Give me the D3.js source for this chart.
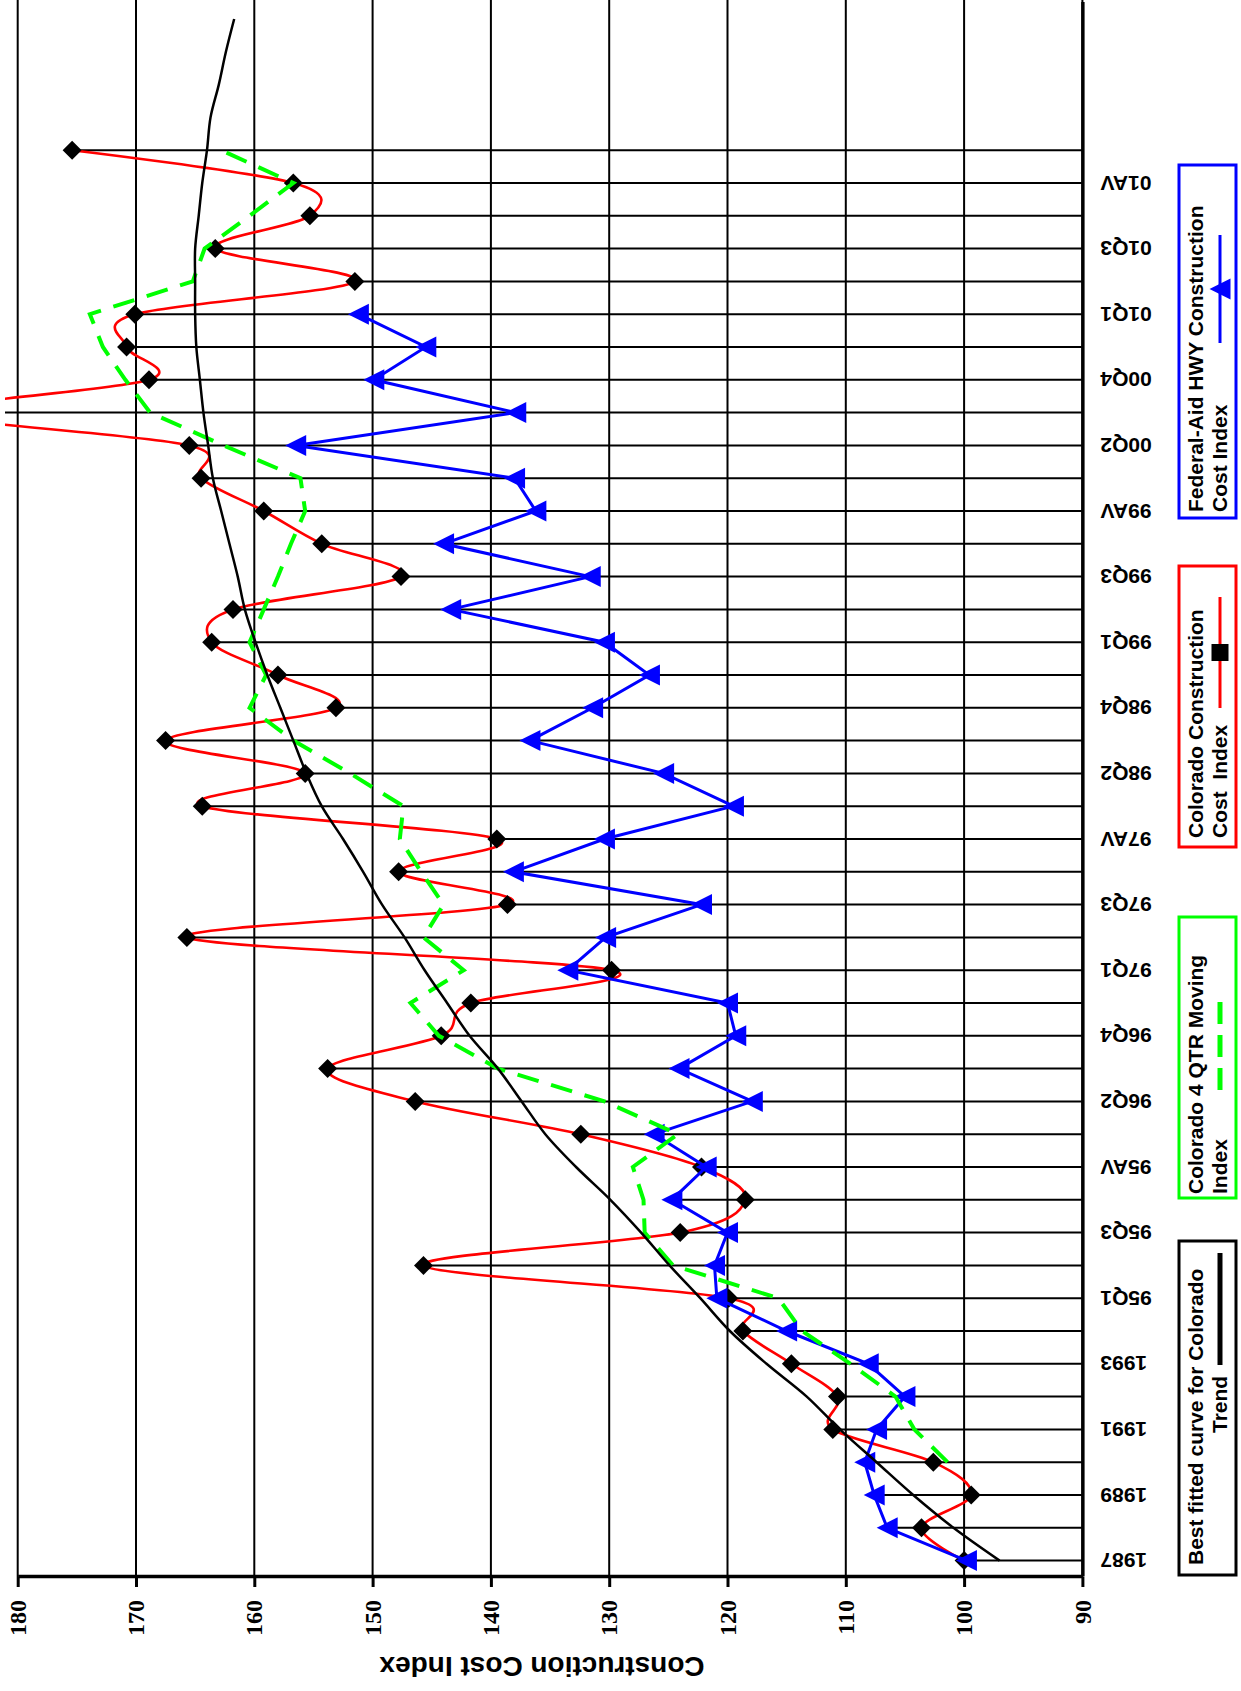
<!DOCTYPE html>
<meta charset="utf-8">

<!--load d3.js-->
<script src="https://d3js.org/d3.v7.min.js"></script>

<style>
    body { margin: 0; background: #fff; }
    text { font-family: "Liberation Sans", Arial, sans-serif; font-weight: bold; }
</style>

<div id="chart">
</div>

<script>
    // category names, the last five slots carry no label
    const categories = ["1987", "1988", "1989", "1990", "1991", "1992", "1993", "1994",
        "95Q1", "95Q2", "95Q3", "95Q4", "95AV",
        "96Q1", "96Q2", "96Q3", "96Q4", "96AV",
        "97Q1", "97Q2", "97Q3", "97Q4", "97AV",
        "98Q1", "98Q2", "98Q3", "98Q4", "98AV",
        "99Q1", "99Q2", "99Q3", "99Q4", "99AV",
        "00Q1", "00Q2", "00Q3", "00Q4", "00AV",
        "01Q1", "01Q2", "01Q3", "01Q4", "01AV",
        "", "", "", "", ""];

    // Colorado Construction Cost Index (00Q3 runs off the top of the axis)
    const colorado = [100.0, 103.6, 99.4, 102.6, 111.1, 110.7, 114.6, 118.7,
        119.9, 145.7, 124.0, 118.5, 122.2,
        132.4, 146.4, 153.8, 144.2, 141.7,
        129.8, 165.7, 138.6, 147.8, 139.5,
        164.4, 155.7, 167.5, 153.1, 158.0,
        163.6, 161.8, 147.6, 154.3, 159.2,
        164.5, 165.5, 187.0, 168.9, 170.8,
        170.1, 151.5, 163.3, 155.3, 156.7,
        175.4];

    // Federal-Aid HWY Construction Cost Index
    const federal = [99.8, 106.5, 107.6, 108.4, 107.4, 105.0, 108.1, 115.0,
        120.9, 121.1, 120.0, 124.7, 121.8,
        126.2, 117.9, 124.1, 119.3, 120.0,
        133.5, 130.3, 122.2, 138.1, 130.4,
        119.5, 125.4, 136.7, 131.4, 126.6,
        130.4, 143.4, 131.6, 144.0, 136.2,
        138.0, 156.5, 137.9, 149.9, 145.5,
        151.2];

    // Colorado 4 QTR moving index, first value sits on 1990
    const movingStart = 3;
    const moving = [101.4, 104.2, 105.8, 109.6, 113.7,
        115.7, 124.6, 127.0, 127.1, 128.0,
        124.2, 130.4, 139.4, 144.4, 146.8,
        142.3, 145.7, 144.0, 145.9, 147.7,
        147.4, 151.9, 156.7, 160.4, 159.0,
        160.4, 159.2, 158.0, 156.9, 155.7,
        156.1, 162.6, 168.8, 170.9, 172.8,
        173.9, 165.2, 164.2, 160.4, 156.7,
        162.8];

    // best fitted curve for Colorado trend
    const trend = [97.0, 100.9, 104.3, 107.4, 110.5, 113.3, 116.7, 119.8,
        122.3, 124.9, 127.3, 129.9, 132.8,
        135.4, 137.4, 139.4, 141.8, 143.7,
        145.6, 147.3, 149.2, 150.8, 152.5,
        154.3, 155.6, 156.7, 157.8, 158.9,
        159.9, 160.8, 161.4, 162.1, 162.8,
        163.5, 163.9, 164.3, 164.6, 164.9,
        165.0, 165.0, 165.0, 164.7, 164.4,
        164.0, 163.7, 163.0, 162.4, 161.7];

    const valueTicks = [90, 100, 110, 120, 130, 140, 150, 160, 170, 180];

    // the chart is laid out in landscape, then turned a quarter turn to the left
    const fullW = 1691,
        fullH = 1241;
    const margin = {
            top: 17.7,
            right: 2.6,
            bottom: 158.6,
            left: 114
        },
        width = fullW - margin.left - margin.right,
        height = fullH - margin.top - margin.bottom;

    const root = d3.select("#chart")
        .append("svg")
        .attr("width", fullH)
        .attr("height", fullW)
        .style("display", "block")
        .append("g")
        .attr("transform", `translate(0, ${fullW}) rotate(-90)`);

    const svg = root.append("g")
        .attr("transform", `translate(${margin.left}, ${margin.top})`);

    //scales
    const x = d3.scaleBand()
        .domain(d3.range(categories.length))
        .range([0, width]);
    const cx = i => x(i) + x.bandwidth() / 2;

    const y = d3.scaleLinear()
        .domain([90, 180])
        .range([height, 0]);

    //value gridlines
    svg.append("g")
        .selectAll("line")
        .data(valueTicks)
        .join("line")
        .attr("x1", 0)
        .attr("x2", width + margin.right)
        .attr("y1", d => y(d))
        .attr("y2", d => y(d))
        .attr("stroke", "#000")
        .attr("stroke-width", 2);

    // clip so the 00Q3 spike stops at the chart edge
    svg.append("clipPath")
        .attr("id", "plotclip")
        .append("rect")
        .attr("x", 0)
        .attr("y", 5 - margin.top)
        .attr("width", width + margin.right)
        .attr("height", height - 5 + margin.top);

    const plot = svg.append("g").attr("clip-path", "url(#plotclip)");

    //drop lines from the highest of the two indexes down to the axis
    const dropIdx = d3.range(colorado.length);
    plot.append("g")
        .selectAll("line")
        .data(dropIdx)
        .join("line")
        .attr("x1", i => cx(i))
        .attr("x2", i => cx(i))
        .attr("y1", i => y(Math.max(colorado[i], i < federal.length ? federal[i] : -Infinity)))
        .attr("y2", y(90))
        .attr("stroke", "#000")
        .attr("stroke-width", 2);

    //Colorado smoothed line + diamonds
    const coloradoPts = colorado.map((v, i) => [i, v]);
    plot.append("path")
        .datum(coloradoPts)
        .attr("fill", "none")
        .attr("stroke", "#ff0000")
        .attr("stroke-width", 2.6)
        .attr("d", d3.line()
            .x(d => cx(d[0]))
            .y(d => y(d[1]))
            .curve(d3.curveCardinal.tension(0)));

    plot.append("g")
        .selectAll("path")
        .data(coloradoPts)
        .join("path")
        .attr("transform", d => `translate(${cx(d[0])}, ${y(d[1])})`)
        .attr("d", "M0,-9.5L9.5,0L0,9.5L-9.5,0Z")
        .attr("fill", "#000");

    //federal line + triangles
    const federalPts = federal.map((v, i) => [i, v]);
    plot.append("path")
        .datum(federalPts)
        .attr("fill", "none")
        .attr("stroke", "#0000ff")
        .attr("stroke-width", 3)
        .attr("d", d3.line()
            .x(d => cx(d[0]))
            .y(d => y(d[1])));

    plot.append("g")
        .selectAll("path")
        .data(federalPts)
        .join("path")
        .attr("transform", d => `translate(${cx(d[0])}, ${y(d[1])})`)
        .attr("d", "M0,-10.5L10.5,10.5L-10.5,10.5Z")
        .attr("fill", "#0000ff");

    //moving index, dashed green
    const movingPts = moving.map((v, i) => [i + movingStart, v]);
    plot.append("path")
        .datum(movingPts)
        .attr("fill", "none")
        .attr("stroke", "#00ff00")
        .attr("stroke-width", 4)
        .attr("stroke-dasharray", "22,13")
        .attr("d", d3.line()
            .x(d => cx(d[0]))
            .y(d => y(d[1])));

    //trend curve
    const trendPts = trend.map((v, i) => [i, v]);
    plot.append("path")
        .datum(trendPts)
        .attr("fill", "none")
        .attr("stroke", "#000")
        .attr("stroke-width", 2.5)
        .attr("d", d3.line()
            .x(d => cx(d[0]))
            .y(d => y(d[1]))
            .curve(d3.curveCatmullRom.alpha(0.5)));

    //Append group and insert axis
    const yAxis = svg.append("g")
        .call(d3.axisLeft(y)
            .tickValues(valueTicks)
            .tickSize(10)
            .tickSizeOuter(0)
            .tickPadding(13));
    yAxis.select(".domain").attr("stroke-width", 3.4);
    yAxis.selectAll(".tick line").attr("stroke-width", 3);
    yAxis.selectAll(".tick text")
        .style("font-family", "'Liberation Serif', 'Times New Roman', serif")
        .style("font-weight", "bold")
        .style("font-size", "24px")
        .attr("fill", "#000");

    const xAxis = svg.append("g")
        .attr("transform", `translate(0, ${height})`)
        .call(d3.axisBottom(x)
            .tickSize(0)
            .tickSizeOuter(0)
            .tickFormat(i => i % 2 === 0 ? categories[i] : ""));
    xAxis.select(".domain").attr("stroke-width", 3.4);
    xAxis.selectAll(".tick text")
        .attr("transform", "rotate(-90)")
        .attr("text-anchor", "end")
        .attr("x", -18)
        .attr("y", 0)
        .attr("dy", "0.35em")
        .style("font-size", "21px")
        .style("font-family", "'Liberation Sans', Arial, sans-serif")
        .style("font-weight", "bold")
        .attr("fill", "#000");

    //axis title
    root.append("text")
        .attr("transform", `translate(34, ${margin.top + height / 2 - 8}) rotate(-90)`)
        .attr("text-anchor", "middle")
        .style("font-size", "28px")
        .text("Construction Cost Index");

    //legend, four framed boxes along the bottom
    const legendItems = [{
            x: 116, w: 334, color: "#000",
            lines: [["Best fitted curve for Colorado", 126], ["Trend", 258]],
            sample: [326, 438], dash: null, width: 5, marker: null
        },
        {
            x: 493, w: 281, color: "#00ff00",
            lines: [["Colorado 4 QTR Moving", 497], ["Index", 497]],
            sample: [601, 698], dash: "22,11", width: 5, marker: null
        },
        {
            x: 844, w: 281, color: "#ff0000",
            lines: [["Colorado Construction", 853], ["Cost  Index", 853]],
            sample: [983, 1094], dash: null, width: 3, marker: "square"
        },
        {
            x: 1173, w: 353, color: "#0000ff",
            lines: [["Federal-Aid HWY Construction", 1179], ["Cost Index", 1179]],
            sample: [1348, 1456], dash: null, width: 3, marker: "triangle"
        }
    ];

    const legend = root.append("g")
        .selectAll("g")
        .data(legendItems)
        .join("g");

    legend.append("rect")
        .attr("x", d => d.x)
        .attr("y", 1179)
        .attr("width", d => d.w)
        .attr("height", 57)
        .attr("fill", "#fff")
        .attr("stroke", d => d.color)
        .attr("stroke-width", 3);

    legend.each(function(d) {
        const g = d3.select(this);
        d.lines.forEach((l, k) => {
            g.append("text")
                .attr("x", l[1])
                .attr("y", 1203 + k * 24)
                .attr("xml:space", "preserve")
                .style("white-space", "pre")
                .style("font-size", "21px")
                .attr("fill", "#000")
                .text(l[0]);
        });
        g.append("line")
            .attr("x1", d.sample[0])
            .attr("x2", d.sample[1])
            .attr("y1", 1220)
            .attr("y2", 1220)
            .attr("stroke", d.color)
            .attr("stroke-width", d.width)
            .attr("stroke-dasharray", d.dash);
        const mx = (d.sample[0] + d.sample[1]) / 2;
        if (d.marker === "square") {
            g.append("rect")
                .attr("x", mx - 8.5)
                .attr("y", 1220 - 8.5)
                .attr("width", 17)
                .attr("height", 17)
                .attr("fill", "#000");
        } else if (d.marker === "triangle") {
            g.append("path")
                .attr("transform", `translate(${mx}, 1220)`)
                .attr("d", "M0,-10.5L10.5,10.5L-10.5,10.5Z")
                .attr("fill", "#0000ff");
        }
    });
</script>
